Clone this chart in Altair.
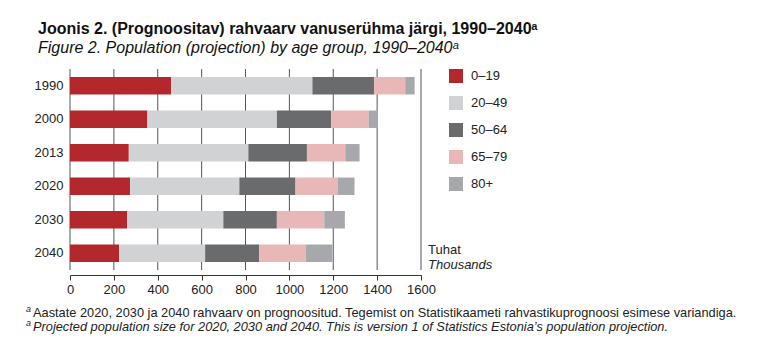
import altair as alt
import pandas as pd

years = ["1990", "2000", "2013", "2020", "2030", "2040"]
groups = ["0–19", "20–49", "50–64", "65–79", "80+"]
colors = ["#b3282d", "#d1d2d4", "#6a6b6d", "#e8b7b8", "#a7a8ab"]
v_0_19 = [461, 353, 268, 274, 260, 224]
v_20_49 = [644, 590, 545, 498, 439, 392]
v_50_64 = [282, 248, 267, 256, 244, 246]
v_65_79 = [141, 170, 175, 192, 216, 212]
v_80 = [43, 43, 65, 77, 94, 122]
x_ticks = [0, 200, 400, 600, 800, 1000, 1200, 1400, 1600]

series = [v_0_19, v_20_49, v_50_64, v_65_79, v_80]
rows = []
for gi, (g, vals) in enumerate(zip(groups, series)):
    for y, v in zip(years, vals):
        rows.append({"year": y, "group": g, "value": v, "order": gi})
df = pd.DataFrame(rows)
grid_df = pd.DataFrame({"tick": x_ticks})

FONT = "Liberation Sans"

xscale = alt.Scale(domain=[0, 1600], nice=False)
xaxis = alt.Axis(values=x_ticks, format="d", grid=False,
                 offset=5, domainColor="#333", tickColor="#333", tickSize=5,
                 labelFontSize=13, labelColor="#222", labelFont=FONT,
                 labelPadding=3, labelFlush=False)

grid = alt.Chart(grid_df).mark_rule(color="#555", strokeWidth=1).encode(
    x=alt.X("tick:Q", scale=xscale, axis=xaxis, title=None),
    y=alt.value(0), y2=alt.value(201))

bars = alt.Chart(df).mark_bar().encode(
    y=alt.Y("year:N", sort=years, title=None,
            scale=alt.Scale(paddingInner=0.48, paddingOuter=0.24),
            axis=alt.Axis(domain=False, ticks=False, labelPadding=7, grid=False,
                          labelFontSize=13, labelColor="#222", labelFont=FONT)),
    x=alt.X("value:Q", stack="zero", title=None, scale=xscale, axis=xaxis),
    color=alt.Color("group:N", sort=groups,
                    scale=alt.Scale(domain=groups, range=colors),
                    legend=alt.Legend(title=None, orient="right", offset=28,
                                      symbolType="square", symbolSize=196,
                                      symbolStrokeWidth=0, symbolOpacity=1,
                                      labelFontSize=13, labelColor="#222", labelFont=FONT,
                                      labelOffset=8, rowPadding=13, padding=0)),
    order=alt.Order("order:Q"),
)

unit_df = pd.DataFrame({"t": ["Tuhat"], "t2": ["Thousands"]})
tuhat = alt.Chart(unit_df).mark_text(align="left", baseline="middle", fontSize=13,
                                     font=FONT, color="#222").encode(
    text="t:N", x=alt.value(358), y=alt.value(181))
thousands = alt.Chart(unit_df).mark_text(align="left", baseline="middle", fontSize=13,
                                         font=FONT, fontStyle="italic", color="#222").encode(
    text="t2:N", x=alt.value(358), y=alt.value(196))

fn_df = pd.DataFrame({
    "a": ["a"],
    "f1": ["Aastate 2020, 2030 ja 2040 rahvaarv on prognoositud. Tegemist on Statistikaameti rahvastikuprognoosi esimese variandiga."],
    "f2": ["Projected population size for 2020, 2030 and 2040. This is version 1 of Statistics Estonia\u2019s population projection."],
})
sup1 = alt.Chart(fn_df).mark_text(align="left", baseline="middle", fontSize=9, font=FONT,
                                  fontStyle="italic", color="#222").encode(
    text="a:N", x=alt.value(-44), y=alt.value(240))
sup2 = alt.Chart(fn_df).mark_text(align="left", baseline="middle", fontSize=9, font=FONT,
                                  fontStyle="italic", color="#222").encode(
    text="a:N", x=alt.value(-44), y=alt.value(254))
fn1 = alt.Chart(fn_df).mark_text(align="left", baseline="middle", fontSize=12.8, font=FONT,
                                 color="#222").encode(
    text="f1:N", x=alt.value(-37), y=alt.value(244))
fn2 = alt.Chart(fn_df).mark_text(align="left", baseline="middle", fontSize=12.8, font=FONT,
                                 fontStyle="italic", color="#222").encode(
    text="f2:N", x=alt.value(-37), y=alt.value(258))

chart = alt.layer(grid, bars, tuhat, thousands, sup1, sup2, fn1, fn2).properties(
    width=351, height=201,
    title=alt.TitleParams(
        text="Joonis 2. (Prognoositav) rahvaarv vanuserühma järgi, 1990–2040ᵃ",
        subtitle="Figure 2. Population (projection) by age group, 1990–2040ᵃ",
        anchor="start", frame="group", dx=-32, offset=13,
        font=FONT, fontSize=16, fontWeight="bold", color="#111",
        subtitleFont=FONT, subtitleFontSize=16, subtitleFontStyle="italic",
        subtitleColor="#111", subtitlePadding=3),
    padding={"left": 62, "top": 61, "right": 341, "bottom": 81},
    autosize=alt.AutoSizeParams(type="none"),
).configure_view(stroke=None)

chart.save("out.html", embed_options={"renderer": "svg", "actions": False})
